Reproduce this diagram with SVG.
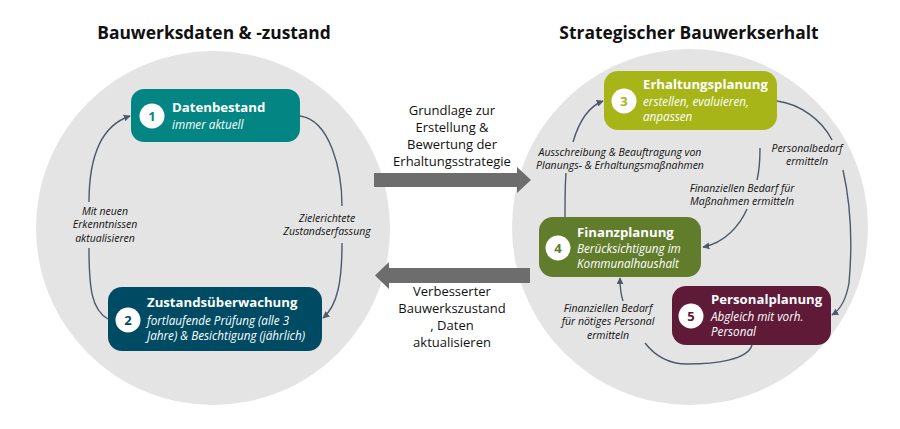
<svg xmlns="http://www.w3.org/2000/svg" width="900" height="429" viewBox="0 0 900 429">
<defs>
<style>
.bg{fill:#e4e4e4}
.title{font-family:"Open Sans","Noto Sans","Liberation Sans",sans-serif;font-weight:bold;font-size:17.4px;fill:#111;text-anchor:middle}
.mid{font-family:"Open Sans","Noto Sans","Liberation Sans",sans-serif;font-size:13px;fill:#111;text-anchor:middle}
.lbl{font-family:"Open Sans","Noto Sans","Liberation Sans",sans-serif;font-style:italic;font-size:10.5px;fill:#111;text-anchor:middle}
.nt{font-family:"Open Sans","Noto Sans","Liberation Sans",sans-serif;font-weight:bold;font-size:13.2px;fill:#fff}
.ns{font-family:"Open Sans","Noto Sans","Liberation Sans",sans-serif;font-style:italic;font-size:11.7px;fill:#fff}
.badge{fill:#fff}
.bn{font-family:"Open Sans","Noto Sans","Liberation Sans",sans-serif;font-weight:bold;font-size:13px;text-anchor:middle}
.con{fill:none;stroke:#4d5a6a;stroke-width:1.4}
.big{fill:#6d6d6d}
</style>
<marker id="ah" viewBox="0 0 10 10" refX="9" refY="5" markerWidth="7" markerHeight="7" orient="auto" markerUnits="userSpaceOnUse">
<path d="M0,0 L10,5 L0,10 Z" fill="#4d5a6a"/>
</marker>
</defs>

<circle class="bg" cx="213" cy="228" r="177"/>
<circle class="bg" cx="690" cy="227" r="178"/>

<text class="title" x="214" y="39">Bauwerksdaten &amp; -zustand</text>
<text class="title" x="689" y="39">Strategischer Bauwerkserhalt</text>

<g id="big-arrows">
<path class="big" d="M374,173 H517 V167 L531,180 L517,193 V187 H374 Z"/>
<path class="big" d="M530,268 H389 V262 L375,275.5 L389,289 V283 H530 Z"/>
</g>

<g id="mid-labels">
<text class="mid"><tspan x="452" y="114.5">Grundlage zur</tspan><tspan x="452" y="131.5">Erstellung &amp;</tspan><tspan x="452" y="148.5">Bewertung der</tspan><tspan x="452" y="165.5">Erhaltungsstrategie</tspan></text>
<text class="mid"><tspan x="452" y="295.5">Verbesserter</tspan><tspan x="452" y="312.5">Bauwerkszustand</tspan><tspan x="452" y="329.5">, Daten</tspan><tspan x="452" y="346.5">aktualisieren</tspan></text>
</g>

<g id="connectors">
<path class="con" d="M108,319 C92,310 89,290 89,248"/>
<path class="con" d="M89,202 C89,160 100,126 130,116" marker-end="url(#ah)"/>
<path class="con" d="M300,116 C330,120 342,170 342,206"/>
<path class="con" d="M342,243 C342,280 338,305 323,318" marker-end="url(#ah)"/>

<path class="con" d="M565,217 C565,200 565,185 566,173"/>
<path class="con" d="M573,142 C580,118 590,106 603,101" marker-end="url(#ah)"/>
<path class="con" d="M777,101 C800,104 822,120 832,140"/>
<path class="con" d="M843,170 C852,210 852,250 849,283 C846,300 840,310 832,315" marker-end="url(#ah)"/>
<path class="con" d="M760,148 C760,162 759,172 757,180"/>
<path class="con" d="M747,209 C740,225 725,243 703,247" marker-end="url(#ah)"/>
<path class="con" d="M752,345 C748,360 715,364 687,364 C665,364 652,352 645,343"/>
<path class="con" d="M623,301 C621,295 620,288 620,278" marker-end="url(#ah)"/>
</g>

<g id="conn-labels">
<text class="lbl"><tspan x="105" y="214.5">Mit neuen</tspan><tspan x="105" y="228">Erkenntnissen</tspan><tspan x="105" y="241.5">aktualisieren</tspan></text>
<text class="lbl"><tspan x="327" y="221.5">Zielerichtete</tspan><tspan x="327" y="235">Zustandserfassung</tspan></text>
<text class="lbl"><tspan x="620" y="155.5">Ausschreibung &amp; Beauftragung von</tspan><tspan x="620" y="169">Planungs- &amp; Erhaltungsmaßnahmen</tspan></text>
<text class="lbl"><tspan x="807" y="151.5">Personalbedarf</tspan><tspan x="807" y="165">ermitteln</tspan></text>
<text class="lbl"><tspan x="742" y="191.5">Finanziellen  Bedarf  für</tspan><tspan x="742" y="205">Maßnahmen ermitteln</tspan></text>
<text class="lbl"><tspan x="608" y="311.5">Finanziellen  Bedarf</tspan><tspan x="608" y="325">für nötiges Personal</tspan><tspan x="608" y="338.5">ermitteln</tspan></text>
</g>

<g id="node1">
<rect x="131" y="89" width="169" height="53" rx="13" fill="#038683"/>
<circle class="badge" cx="152" cy="116" r="12.5"/>
<text class="bn" x="152" y="121" fill="#038683">1</text>
<text class="nt" x="172" y="112">Datenbestand</text>
<text class="ns" x="172" y="129">immer aktuell</text>
</g>

<g id="node2">
<rect x="108" y="287" width="214" height="64" rx="14" fill="#004b64"/>
<circle class="badge" cx="128" cy="320" r="12.5"/>
<text class="bn" x="128" y="325" fill="#004b64">2</text>
<text class="nt" x="147" y="307">Zustandsüberwachung</text>
<text class="ns"><tspan x="147" y="325">fortlaufende Prüfung (alle 3</tspan><tspan x="147" y="340">Jahre) &amp; Besichtigung (jährlich)</tspan></text>
</g>

<g id="node3">
<rect x="604" y="71" width="173" height="59" rx="14" fill="#a7b519"/>
<circle class="badge" cx="624" cy="101" r="12.5"/>
<text class="bn" x="624" y="106" fill="#a7b519">3</text>
<text class="nt" x="643" y="89">Erhaltungsplanung</text>
<text class="ns"><tspan x="643" y="106">erstellen, evaluieren,</tspan><tspan x="643" y="121">anpassen</tspan></text>
</g>

<g id="node4">
<rect x="539" y="217" width="162" height="60" rx="14" fill="#617d2c"/>
<circle class="badge" cx="558" cy="248" r="12.5"/>
<text class="bn" x="558" y="253" fill="#617d2c">4</text>
<text class="nt" x="577" y="237">Finanzplanung</text>
<text class="ns"><tspan x="577" y="253">Berücksichtigung im</tspan><tspan x="577" y="268">Kommunalhaushalt</tspan></text>
</g>

<g id="node5">
<rect x="672" y="286" width="159" height="59" rx="14" fill="#5e1a36"/>
<circle class="badge" cx="691" cy="316" r="12.5"/>
<text class="bn" x="691" y="321" fill="#5e1a36">5</text>
<text class="nt" x="711" y="304">Personalplanung</text>
<text class="ns"><tspan x="711" y="321">Abgleich mit vorh.</tspan><tspan x="711" y="336">Personal</tspan></text>
</g>
</svg>
